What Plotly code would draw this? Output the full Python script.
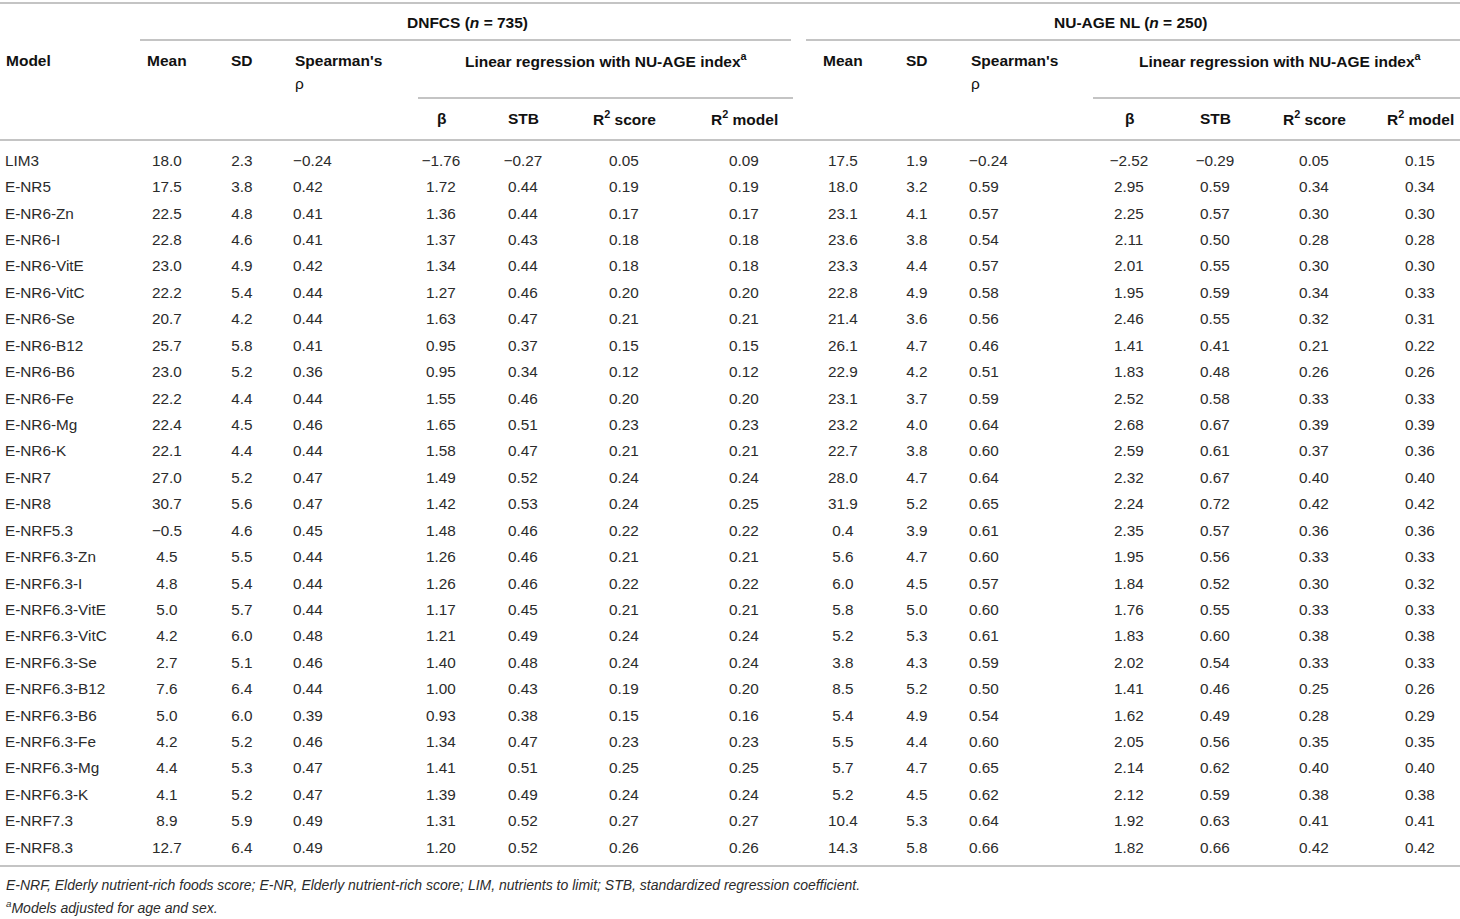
import plotly.graph_objects as go

# Table data
models = ['LIM3', 'E-NR5', 'E-NR6-Zn', 'E-NR6-I', 'E-NR6-VitE', 'E-NR6-VitC', 'E-NR6-Se',
          'E-NR6-B12', 'E-NR6-B6', 'E-NR6-Fe', 'E-NR6-Mg', 'E-NR6-K', 'E-NR7', 'E-NR8',
          'E-NRF5.3', 'E-NRF6.3-Zn', 'E-NRF6.3-I', 'E-NRF6.3-VitE', 'E-NRF6.3-VitC',
          'E-NRF6.3-Se', 'E-NRF6.3-B12', 'E-NRF6.3-B6', 'E-NRF6.3-Fe', 'E-NRF6.3-Mg',
          'E-NRF6.3-K', 'E-NRF7.3', 'E-NRF8.3']

# DNFCS (n = 735)
dn_mean = [18.0, 17.5, 22.5, 22.8, 23.0, 22.2, 20.7, 25.7, 23.0, 22.2, 22.4, 22.1, 27.0, 30.7,
           -0.5, 4.5, 4.8, 5.0, 4.2, 2.7, 7.6, 5.0, 4.2, 4.4, 4.1, 8.9, 12.7]
dn_sd = [2.3, 3.8, 4.8, 4.6, 4.9, 5.4, 4.2, 5.8, 5.2, 4.4, 4.5, 4.4, 5.2, 5.6,
         4.6, 5.5, 5.4, 5.7, 6.0, 5.1, 6.4, 6.0, 5.2, 5.3, 5.2, 5.9, 6.4]
dn_rho = [-0.24, 0.42, 0.41, 0.41, 0.42, 0.44, 0.44, 0.41, 0.36, 0.44, 0.46, 0.44, 0.47, 0.47,
          0.45, 0.44, 0.44, 0.44, 0.48, 0.46, 0.44, 0.39, 0.46, 0.47, 0.47, 0.49, 0.49]
dn_beta = [-1.76, 1.72, 1.36, 1.37, 1.34, 1.27, 1.63, 0.95, 0.95, 1.55, 1.65, 1.58, 1.49, 1.42,
           1.48, 1.26, 1.26, 1.17, 1.21, 1.40, 1.00, 0.93, 1.34, 1.41, 1.39, 1.31, 1.20]
dn_stb = [-0.27, 0.44, 0.44, 0.43, 0.44, 0.46, 0.47, 0.37, 0.34, 0.46, 0.51, 0.47, 0.52, 0.53,
          0.46, 0.46, 0.46, 0.45, 0.49, 0.48, 0.43, 0.38, 0.47, 0.51, 0.49, 0.52, 0.52]
dn_r2_score = [0.05, 0.19, 0.17, 0.18, 0.18, 0.20, 0.21, 0.15, 0.12, 0.20, 0.23, 0.21, 0.24, 0.24,
               0.22, 0.21, 0.22, 0.21, 0.24, 0.24, 0.19, 0.15, 0.23, 0.25, 0.24, 0.27, 0.26]
dn_r2_model = [0.09, 0.19, 0.17, 0.18, 0.18, 0.20, 0.21, 0.15, 0.12, 0.20, 0.23, 0.21, 0.24, 0.25,
               0.22, 0.21, 0.22, 0.21, 0.24, 0.24, 0.20, 0.16, 0.23, 0.25, 0.24, 0.27, 0.26]

# NU-AGE NL (n = 250)
nl_mean = [17.5, 18.0, 23.1, 23.6, 23.3, 22.8, 21.4, 26.1, 22.9, 23.1, 23.2, 22.7, 28.0, 31.9,
           0.4, 5.6, 6.0, 5.8, 5.2, 3.8, 8.5, 5.4, 5.5, 5.7, 5.2, 10.4, 14.3]
nl_sd = [1.9, 3.2, 4.1, 3.8, 4.4, 4.9, 3.6, 4.7, 4.2, 3.7, 4.0, 3.8, 4.7, 5.2,
         3.9, 4.7, 4.5, 5.0, 5.3, 4.3, 5.2, 4.9, 4.4, 4.7, 4.5, 5.3, 5.8]
nl_rho = [-0.24, 0.59, 0.57, 0.54, 0.57, 0.58, 0.56, 0.46, 0.51, 0.59, 0.64, 0.60, 0.64, 0.65,
          0.61, 0.60, 0.57, 0.60, 0.61, 0.59, 0.50, 0.54, 0.60, 0.65, 0.62, 0.64, 0.66]
nl_beta = [-2.52, 2.95, 2.25, 2.11, 2.01, 1.95, 2.46, 1.41, 1.83, 2.52, 2.68, 2.59, 2.32, 2.24,
           2.35, 1.95, 1.84, 1.76, 1.83, 2.02, 1.41, 1.62, 2.05, 2.14, 2.12, 1.92, 1.82]
nl_stb = [-0.29, 0.59, 0.57, 0.50, 0.55, 0.59, 0.55, 0.41, 0.48, 0.58, 0.67, 0.61, 0.67, 0.72,
          0.57, 0.56, 0.52, 0.55, 0.60, 0.54, 0.46, 0.49, 0.56, 0.62, 0.59, 0.63, 0.66]
nl_r2_score = [0.05, 0.34, 0.30, 0.28, 0.30, 0.34, 0.32, 0.21, 0.26, 0.33, 0.39, 0.37, 0.40, 0.42,
               0.36, 0.33, 0.30, 0.33, 0.38, 0.33, 0.25, 0.28, 0.35, 0.40, 0.38, 0.41, 0.42]
nl_r2_model = [0.15, 0.34, 0.30, 0.28, 0.30, 0.33, 0.31, 0.22, 0.26, 0.33, 0.39, 0.36, 0.40, 0.42,
               0.36, 0.33, 0.32, 0.33, 0.38, 0.33, 0.26, 0.29, 0.35, 0.40, 0.38, 0.41, 0.42]

groups = ['DNFCS (<i>n</i> = 735)', 'NU-AGE NL (<i>n</i> = 250)']
col_headers = ['Mean', 'SD', "Spearman's", 'Linear regression with NU-AGE index<sup>a</sup>']
sub_headers = ['β', 'STB', 'R<sup>2</sup> score', 'R<sup>2</sup> model']
footnotes = ['E-NRF, Elderly nutrient-rich foods score; E-NR, Elderly nutrient-rich score; '
             'LIM, nutrients to limit; STB, standardized regression coefficient.',
             '<sup>a</sup>Models adjusted for age and sex.']

# layout of the page (pixel units)
W, H = 1460, 919
FONT = 'Liberation Sans, Arial, sans-serif'
TXT = '#2b2b2b'
RULE = '#c4c4c4'
row0, row_step = 162, 26.42

# column x positions: (mean, sd, rho-left, beta, stb, r2 score, r2 model)
block_x = {
    'dn': [167, 242, 293, 441, 523, 624, 744],
    'nl': [843, 917, 969, 1129, 1215, 1314, 1420],
}
group_cx = [467, 1130]
linreg_cx = [606, 1280]


def fmt(v, nd):
    return f'{v:.{nd}f}'.replace('-', '\u2212')


row_y = [row0 + i * row_step for i in range(len(models))]

fig = go.Figure()


def add_col(x, texts, pos='middle center'):
    fig.add_trace(go.Scatter(
        x=[x] * len(texts), y=row_y, text=texts, mode='text',
        textposition=pos, hoverinfo='skip',
        textfont=dict(family=FONT, size=15.3, color=TXT)))


add_col(5, models, 'middle right')
for key, cols in [('dn', [dn_mean, dn_sd, dn_rho, dn_beta, dn_stb, dn_r2_score, dn_r2_model]),
                  ('nl', [nl_mean, nl_sd, nl_rho, nl_beta, nl_stb, nl_r2_score, nl_r2_model])]:
    xs = block_x[key]
    add_col(xs[0], [fmt(v, 1) for v in cols[0]])
    add_col(xs[1], [fmt(v, 1) for v in cols[1]])
    add_col(xs[2], [fmt(v, 2) for v in cols[2]], 'middle right')
    for x, vals in zip(xs[3:], cols[3:]):
        add_col(x, [fmt(v, 2) for v in vals])

annotations = []


def ann(text, x, y, anchor='center', size=15.5, bold=True):
    t = f'<b>{text}</b>' if bold else text
    annotations.append(dict(text=t, x=x, y=y, xref='x', yref='y', xanchor=anchor,
                            yanchor='middle', showarrow=False,
                            font=dict(family=FONT, size=size, color='#111111')))


ann('Model', 4, 60, 'left')
for gi, key in enumerate(['dn', 'nl']):
    xs = block_x[key]
    ann(groups[gi], group_cx[gi], 22)
    ann(col_headers[0], xs[0], 60)
    ann(col_headers[1], xs[1], 60)
    ann(col_headers[2], xs[2], 60, 'left')
    ann('ρ', xs[2], 83, 'left', bold=False)
    ann(col_headers[3], linreg_cx[gi], 60)
    for x, s in zip(xs[3:], sub_headers):
        ann(s, x, 118)

for i, f in enumerate(footnotes):
    annotations.append(dict(text=f'<i>{f}</i>', x=4, y=885 + i * 22, xref='x', yref='y',
                            xanchor='left', yanchor='middle', showarrow=False,
                            font=dict(family=FONT, size=14, color=TXT)))

rules = [(0, W, 3), (140, 791, 40), (806, W, 40), (418, 793, 98), (1093, W, 98),
         (0, W, 140), (0, W, 866)]
shapes = [dict(type='line', x0=a, x1=b, y0=y, y1=y, xref='x', yref='y',
               line=dict(color=RULE, width=2)) for a, b, y in rules]

fig.update_layout(
    width=W, height=H,
    margin=dict(l=0, r=0, t=0, b=0),
    paper_bgcolor='white', plot_bgcolor='white',
    showlegend=False,
    xaxis=dict(range=[0, W], visible=False, fixedrange=True),
    yaxis=dict(range=[H, 0], visible=False, fixedrange=True),
    annotations=annotations,
    shapes=shapes,
)

fig.write_html('out.html', config={'displayModeBar': False},
               post_script="document.body.style.margin='0';")
